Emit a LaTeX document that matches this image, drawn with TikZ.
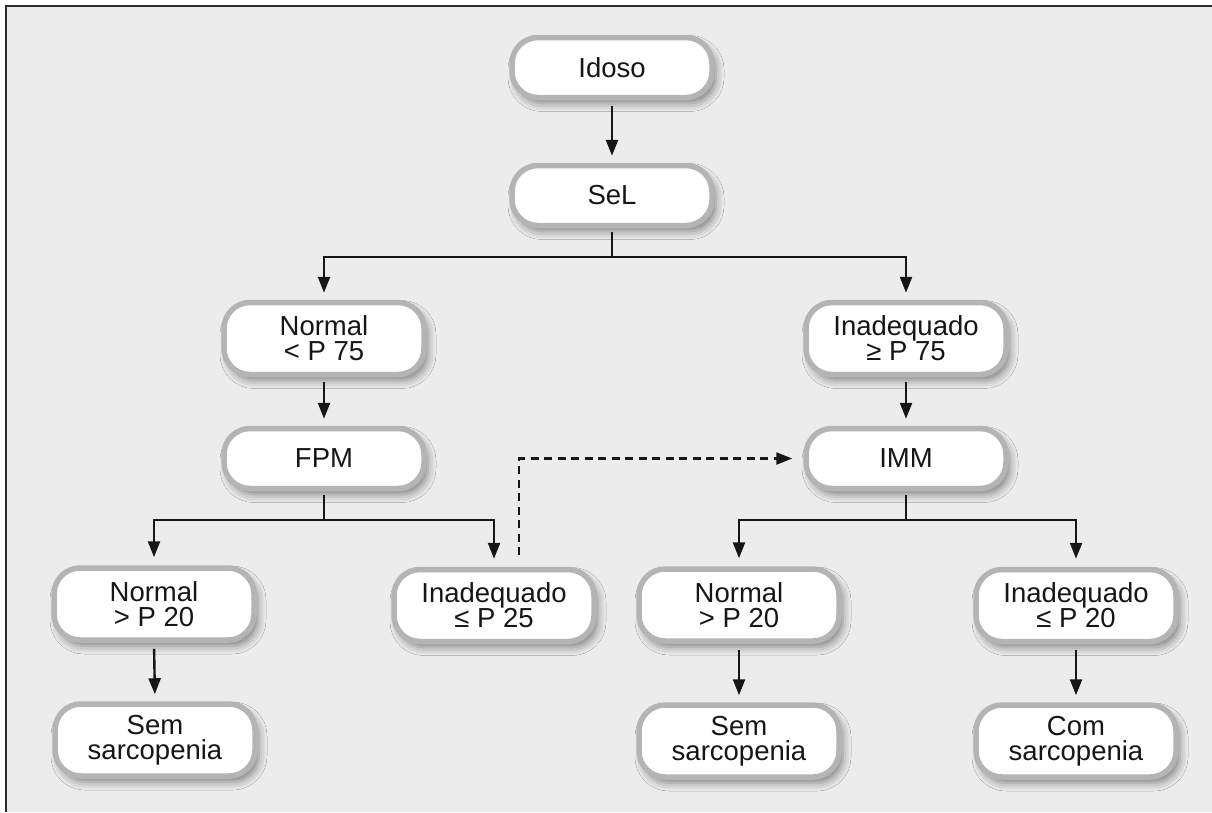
\documentclass[tikz,border=0pt]{standalone}
\usepackage{fontspec}
\setmainfont{Liberation Sans}
\usetikzlibrary{arrows.meta,shadows.blur}
\definecolor{bgc}{HTML}{ECECEC}
\definecolor{boxline}{HTML}{B4B4B4}
\definecolor{ink}{HTML}{161616}
\tikzset{
  flowbox/.style={draw=boxline, line width=5.5pt, fill=white, rounded corners=26pt,
    minimum width=200pt, minimum height=60pt, inner sep=0pt, align=center,
    text=ink, font=\fontsize{27.5}{25}\selectfont,
    blur shadow={shadow xshift=4pt, shadow yshift=-6pt, shadow blur radius=8pt, shadow opacity=45}},
  twobox/.style={flowbox, minimum height=72pt},
  conn/.style={draw=ink, line width=2.4pt, -{Triangle[length=16pt,width=12pt]}},
  plainconn/.style={draw=ink, line width=2.4pt},
  dashconn/.style={draw=ink, line width=2.4pt, dash pattern=on 8pt off 5.5pt, -{Triangle[length=16pt,width=12pt]}}
}
\begin{document}
\begin{tikzpicture}[x=1pt,y=-1pt]
\useasboundingbox (0,0) rectangle (1212,812);
\fill[white] (0,0) rectangle (1212,812);
\fill[bgc] (6,6) rectangle (1212,812);
\draw[ink!90, line width=2.2pt] (6,812) -- (6,6) -- (1212,6);

\node[flowbox] (idoso) at (612,67.5) {Idoso};
\node[flowbox] (sel) at (612,195.5) {SeL};
\node[twobox] (normA) at (324,338.5) {Normal\\< P 75};
\node[twobox] (inadA) at (906,338.5) {Inadequado\\≥ P 75};
\node[flowbox] (fpm) at (324,458.5) {FPM};
\node[flowbox] (imm) at (906,458.5) {IMM};
\node[twobox] (normL) at (154,604) {Normal\\> P 20};
\node[twobox] (inadL) at (494,605.5) {Inadequado\\≤ P 25};
\node[twobox] (normM) at (739,605) {Normal\\> P 20};
\node[twobox] (inadR) at (1076,605.5) {Inadequado\\≤ P 20};
\node[twobox] (semL) at (155,740) {Sem\\sarcopenia};
\node[twobox] (semM) at (739,741) {Sem\\sarcopenia};
\node[twobox] (com) at (1076,741) {Com\\sarcopenia};

\coordinate (jSel) at (612,257);
\coordinate (jFpm) at (324,520);
\coordinate (jImm) at (906,520);
\coordinate (dStart) at (519,555);

\draw[conn, shorten <=6pt, shorten >=7pt] (idoso.south) -- (sel.north);
\draw[plainconn, shorten <=4pt] (sel.south) -- (jSel);
\draw[conn, shorten >=7pt] (jSel) -| (normA.north);
\draw[conn, shorten >=7pt] (jSel) -| (inadA.north);
\draw[conn, shorten <=5pt, shorten >=7pt] (normA.south) -- (fpm.north);
\draw[conn, shorten <=5pt, shorten >=7pt] (inadA.south) -- (imm.north);
\draw[plainconn, shorten <=4pt] (fpm.south) -- (jFpm);
\draw[conn, shorten >=8pt] (jFpm) -| (normL.north);
\draw[conn, shorten >=8pt] (jFpm) -| (inadL.north);
\draw[plainconn, shorten <=4pt] (imm.south) -- (jImm);
\draw[conn, shorten >=8pt] (jImm) -| (normM.north);
\draw[conn, shorten >=8pt] (jImm) -| (inadR.north);
\draw[dashconn, shorten >=11pt] (dStart) |- (imm.west);
\draw[conn, shorten <=6pt, shorten >=7pt] (normL.south) -- (semL.north);
\draw[conn, shorten <=6pt, shorten >=7pt] (normM.south) -- (semM.north);
\draw[conn, shorten <=6pt, shorten >=7pt] (inadR.south) -- (com.north);
\end{tikzpicture}
\end{document}
